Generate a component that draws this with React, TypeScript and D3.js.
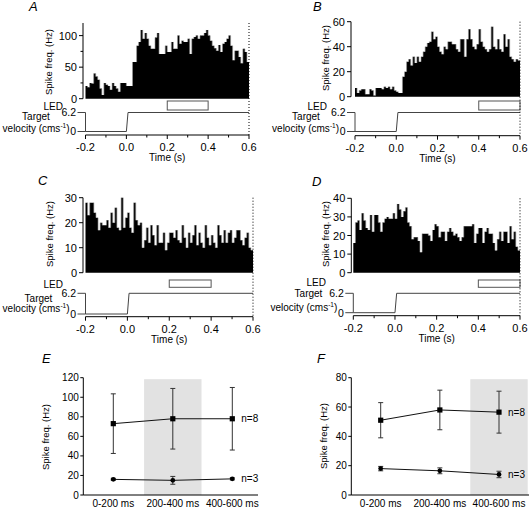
import React from "react";
import * as d3 from "d3";

const FONT = "'Liberation Sans', Arial, Helvetica, sans-serif";

// Peri-stimulus histograms, 10 ms bins from -0.2 s to 0.6 s (Hz)
const histA = [20,18,25,24,40,35,30,16,6,25,22,20,14,25,20,16,11,25,25,25,20,20,20,58,58,84,90,109,95,104,95,84,79,79,97,104,71,71,71,84,74,74,90,79,79,100,87,92,90,90,95,71,95,98,100,95,100,100,104,109,100,92,84,80,76,85,74,87,90,95,100,84,61,76,76,66,56,79,74,58];
const histB = [7,3,5,6,6,2,2,6,5,1,7,7,7,6,8,7,8,6,8,5,4,3,3,16,20,28,30,25,32,27,32,28,32,36,40,43,44,52,46,48,40,36,34,40,38,44,44,42,42,38,36,46,46,32,46,54,46,40,38,42,54,44,40,38,36,38,56,40,38,46,38,36,50,40,46,32,30,28,30,29];
const histC = [28,23,28,28,24,22,17,20,19,19,21,18,24,20,26,18,17,30,18,22,24,18,16,28,21,19,20,10,13,18,12,19,15,11,19,12,12,16,9,12,16,16,14,17,13,12,19,14,10,16,12,15,19,11,16,12,10,19,14,11,15,12,10,19,15,12,17,12,16,17,12,14,17,17,13,11,14,16,10,9];
const histD = [16,27,28,23,32,28,24,23,31,22,31,31,27,22,27,29,30,29,29,32,29,37,34,30,33,35,27,25,18,19,19,17,11,21,21,21,20,17,23,26,25,19,22,22,17,22,24,22,20,21,19,17,19,25,25,25,25,26,16,21,24,24,16,22,24,21,21,16,12,18,22,17,22,22,16,25,18,22,14,12];

const timeTicks = [-0.2, 0, 0.2, 0.4, 0.6];
const timeTickLabels = ["-0.2", "0.0", "0.2", "0.4", "0.6"];
const timeMinorTicks = [-0.1, 0.1, 0.3, 0.5];
const velocityTimes = [-0.2, -0.2, 0, 0.008, 0.6];
const velocityValues = [6.2, 0, 0, 6.2, 6.2];
const velocityTicks = [0, 6.2];
const velocityTickLabels = ["0", "6.2"];
const ledA = [0.2, 0.4];
const ledB = [0.4, 0.6];
const ledC = [0.2, 0.4];
const ledD = [0.4, 0.6];
const ticksA = [0, 50, 100];
const minorA = [25, 75];
const ticksB = [0, 20, 40, 60];
const ticksC = [0, 10, 20, 30];
const ticksD = [0, 10, 20, 30, 40];

const periods = ["0-200 ms", "200-400 ms", "400-600 ms"];
const eN8 = [73, 78, 78];
const eN8Err = [30.5, 31, 32];
const eN3 = [16, 15, 16.5];
const eN3Err = [1, 4, 1];
const fN8 = [51, 58, 56.5];
const fN8Err = [12, 13.5, 14.3];
const fN3 = [18, 16.5, 14];
const fN3Err = [1.5, 2, 2.2];
const eTicks = [0, 20, 40, 60, 80, 100, 120];
const fTicks = [0, 20, 40, 60, 80];

type HCfg = any;

function HistPanel({ c }: { c: HCfg }) {
  const x = d3.scaleLinear().domain([-0.2, 0.6]).range([c.x0, c.x1]);
  const y = d3.scaleLinear().domain([0, c.yMax]).range([c.y0, c.yTop]);
  const v = d3.scaleLinear().domain([0, 6.2]).range([c.v0, c.v62]);
  const n = c.data.length;
  const bw = 0.8 / n;
  const pts: [number, number][] = c.data.map((d: number, i: number) => [-0.2 + i * bw, d]);
  pts.push([0.6, c.data[n - 1]]);
  const area = d3
    .area<[number, number]>()
    .x((d) => x(d[0]))
    .y0(y(0))
    .y1((d) => y(d[1]))
    .curve(d3.curveStepAfter);
  const vline = d3
    .line<number>()
    .x((_, i) => x(velocityTimes[i]))
    .y((d) => v(d));
  const xv = x(-0.2);
  return (
    <g fontFamily={FONT} fill="#000">
      <text x={c.lx} y={c.ly} fontSize={13} fontStyle="italic">{c.letter}</text>
      <path d={area(pts) || ""} fill="#000" />
      {c.data.slice(1).map((d: number, i: number) => (
        <line key={"e" + i} x1={x(-0.2 + (i + 1) * bw)} x2={x(-0.2 + (i + 1) * bw)}
          y1={y(c.data[i])} y2={y(d)} stroke="#9a9a9a" strokeWidth={0.6} />
      ))}
      {/* y axis */}
      <line x1={c.axX} x2={c.axX} y1={y(0)} y2={y(c.yMax)} stroke="#000" strokeWidth={1} />
      {c.ticks.map((t: number) => (
        <g key={"t" + t}>
          <line x1={c.axX - 4} x2={c.axX} y1={y(t)} y2={y(t)} stroke="#000" />
          <text x={c.axX - 6} y={y(t) + 4} fontSize={11} textAnchor="end">{t}</text>
        </g>
      ))}
      {(c.minor || []).map((t: number) => (
        <line key={"m" + t} x1={c.axX - 2.5} x2={c.axX} y1={y(t)} y2={y(t)} stroke="#000" />
      ))}
      <text transform={`translate(${c.ylx},${c.yly}) rotate(-90)`} fontSize={9.5} textAnchor="middle">Spike freq. (Hz)</text>
      {/* LED */}
      <rect x={x(c.led[0])} y={c.ledTop} width={x(c.led[1]) - x(c.led[0])} height={c.ledBot - c.ledTop}
        fill="#fff" stroke="#555" strokeWidth={1} />
      <text x={c.ledX} y={c.ledY} fontSize={10} textAnchor="end">LED</text>
      {/* velocity */}
      <path d={vline(velocityValues) || ""} fill="none" stroke="#444" strokeWidth={1} />
      {velocityTicks.map((t, i) => (
        <g key={"v" + i}>
          <line x1={xv - 8} x2={xv} y1={v(t)} y2={v(t)} stroke="#444" />
          <text x={xv - 9.5} y={v(t) + 3.8} fontSize={10.5} textAnchor="end">{velocityTickLabels[i]}</text>
        </g>
      ))}
      <text x={c.tgX} y={c.tgY} fontSize={10} textAnchor="middle">Target</text>
      <text x={xv - 16} y={c.velY} fontSize={10} textAnchor="end">
        velocity (cms<tspan fontSize={6.5} dy={-4}>-1</tspan><tspan dy={4}>)</tspan>
      </text>
      {/* dotted end line */}
      <line x1={x(0.6)} x2={x(0.6)} y1={y(c.yMax)} y2={c.axisY} stroke="#000" strokeWidth={1} strokeDasharray="1,2" />
      {/* time axis */}
      <line x1={x(-0.2)} x2={x(0.6)} y1={c.axisY} y2={c.axisY} stroke="#000" />
      {timeTicks.map((t, i) => (
        <g key={"x" + i}>
          <line x1={x(t)} x2={x(t)} y1={c.axisY} y2={c.axisY + 4} stroke="#000" />
          <text x={x(t)} y={c.axisY + 16} fontSize={11} textAnchor="middle">{timeTickLabels[i]}</text>
        </g>
      ))}
      {timeMinorTicks.map((t, i) => (
        <line key={"xm" + i} x1={x(t)} x2={x(t)} y1={c.axisY} y2={c.axisY + 2.5} stroke="#000" />
      ))}
      <text x={(x(-0.2) + x(0.6)) / 2} y={c.axisY + 26} fontSize={10} textAnchor="middle">Time (s)</text>
    </g>
  );
}

function SummaryPanel({ c }: { c: any }) {
  const x = d3.scalePoint<string>().domain(periods).range([c.xa, c.xc]);
  const y = d3.scaleLinear().domain([0, c.yMax]).range([495, 377.7]);
  const line = d3
    .line<number>()
    .x((_, i) => x(periods[i]) as number)
    .y((d) => y(d));
  const sx = x(periods[c.shade]) as number;
  const series = [
    { vals: c.n8, err: c.n8Err, label: "n=8", shape: "sq" },
    { vals: c.n3, err: c.n3Err, label: "n=3", shape: "ci" },
  ];
  return (
    <g fontFamily={FONT}>
      <rect x={sx - 28.7} y={y(c.yMax) + 1.5} width={57.4} height={y(0) - y(c.yMax) - 1.5} fill="#e2e2e2" />
      <text x={c.lx} y={c.ly} fontSize={13} fontStyle="italic">{c.letter}</text>
      <line x1={c.axX} x2={c.axX} y1={y(0)} y2={y(c.yMax)} stroke="#000" />
      <line x1={c.axX} x2={c.axEnd} y1={y(0)} y2={y(0)} stroke="#000" />
      {c.ticks.map((t: number) => (
        <g key={t}>
          <line x1={c.axX - 3} x2={c.axX} y1={y(t)} y2={y(t)} stroke="#000" />
          <text x={c.axX - 4.5} y={y(t) + 3.5} fontSize={10} textAnchor="end">{t}</text>
        </g>
      ))}
      <text transform={`translate(${c.ylx},${c.yly}) rotate(-90)`} fontSize={9.5} textAnchor="middle">Spike freq. (Hz)</text>
      {periods.map((p) => (
        <text key={p} x={x(p)} y={507} fontSize={10} textAnchor="middle">{p}</text>
      ))}
      {series.map((s) => (
        <g key={s.label}>
          <path d={line(s.vals) || ""} fill="none" stroke="#111" strokeWidth={1} />
          {s.vals.map((vv: number, i: number) => {
            const px = x(periods[i]) as number;
            const e = s.err[i];
            return (
              <g key={i}>
                <line x1={px} x2={px} y1={y(vv - e)} y2={y(vv + e)} stroke="#333" />
                <line x1={px - 2.5} x2={px + 2.5} y1={y(vv - e)} y2={y(vv - e)} stroke="#333" />
                <line x1={px - 2.5} x2={px + 2.5} y1={y(vv + e)} y2={y(vv + e)} stroke="#333" />
                {s.shape === "sq" ? (
                  <rect x={px - 2.6} y={y(vv) - 2.6} width={5.2} height={5.2} fill="#000" />
                ) : (
                  <circle cx={px} cy={y(vv)} r={2.4} fill="#000" />
                )}
              </g>
            );
          })}
          <text x={(x(periods[2]) as number) + 9} y={y(s.vals[2]) + 3.5} fontSize={10}>{s.label}</text>
        </g>
      ))}
    </g>
  );
}

const cfgA = { letter: "A", lx: 29, ly: 11, data: histA, x0: 85.5, x1: 249, axX: 83, y0: 98.7, yTop: 23, yMax: 120,
  ticks: ticksA, minor: minorA, ylx: 52, yly: 62, led: ledA, ledTop: 101, ledBot: 110, ledX: 63, ledY: 109.5,
  v62: 112.5, v0: 131.5, tgX: 36, tgY: 120, velY: 132, axisY: 135 };
const cfgB = { letter: "B", lx: 313, ly: 11, data: histB, x0: 355, x1: 520, axX: 351, y0: 96.7, yTop: 21.7, yMax: 60,
  ticks: ticksB, ylx: 329, yly: 58, led: ledB, ledTop: 101, ledBot: 110, ledX: 327, ledY: 109.5,
  v62: 112.5, v0: 131.5, tgX: 306, tgY: 120, velY: 132, axisY: 135.7 };
const cfgC = { letter: "C", lx: 38, ly: 185, data: histC, x0: 85.5, x1: 253, axX: 83, y0: 272.7, yTop: 197.7, yMax: 30,
  ticks: ticksC, ylx: 53, yly: 234, led: ledC, ledTop: 280, ledBot: 287.3, ledX: 63, ledY: 287.8,
  v62: 293.3, v0: 314, tgX: 38.5, tgY: 301.5, velY: 311.5, axisY: 316.7 };
const cfgD = { letter: "D", lx: 312, ly: 186, data: histD, x0: 353.3, x1: 520, axX: 351.3, y0: 272.7, yTop: 198.3, yMax: 40,
  ticks: ticksD, ylx: 329, yly: 234, led: ledD, ledTop: 280, ledBot: 287.3, ledX: 326, ledY: 286.3,
  v62: 293.3, v0: 312.7, tgX: 308.5, tgY: 297, velY: 310.5, axisY: 315.7 };
const cfgE = { letter: "E", lx: 42, ly: 363, xa: 113.3, xc: 232.3, axX: 83.3, axEnd: 258, yMax: 120, ticks: eTicks,
  shade: 1, n8: eN8, n8Err: eN8Err, n3: eN3, n3Err: eN3Err, ylx: 49, yly: 437 };
const cfgF = { letter: "F", lx: 317, ly: 363, xa: 380.7, xc: 499, axX: 351.3, axEnd: 529, yMax: 80, ticks: fTicks,
  shade: 2, n8: fN8, n8Err: fN8Err, n3: fN3, n3Err: fN3Err, ylx: 326.5, yly: 436 };

export default function App() {
  return (
    <svg width={529} height={508} style={{ position: "absolute", left: 0, top: 0, background: "#fff" }}>
      <rect width={529} height={508} fill="#fff" />
      <HistPanel c={cfgA} />
      <HistPanel c={cfgB} />
      <HistPanel c={cfgC} />
      <HistPanel c={cfgD} />
      <SummaryPanel c={cfgE} />
      <SummaryPanel c={cfgF} />
    </svg>
  );
}
